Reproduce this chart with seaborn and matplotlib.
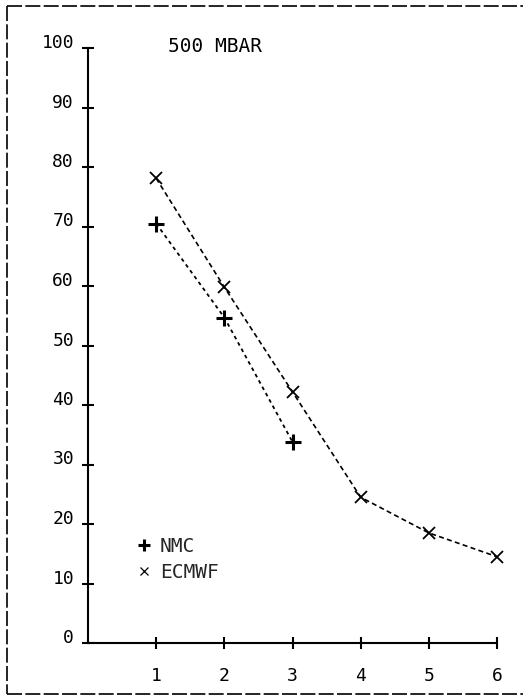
import matplotlib
matplotlib.use("Agg")
import matplotlib.pyplot as plt
import matplotlib.transforms as mtransforms
from matplotlib.lines import Line2D
import seaborn as sns
import pandas as pd

# ---- data ----
nmc_days = [1, 2, 3]
nmc_vals = [70.5, 54.7, 33.8]
ecmwf_days = [1, 2, 3, 4, 5, 6]
ecmwf_vals = [78.1, 59.8, 42.2, 24.5, 18.5, 14.5]
x_ticks = [1, 2, 3, 4, 5, 6]
y_ticks = [0, 10, 20, 30, 40, 50, 60, 70, 80, 90, 100]
title_text = "500 MBAR"
series_names = ["NMC", "ECMWF"]

sns.set_theme(style="white")
plt.rcParams["font.family"] = ["DejaVu Sans Mono", "DejaVu Sans"]

fig = plt.figure(figsize=(5.23, 6.97), dpi=100)
ax = fig.add_axes([88 / 523, 1 - 643 / 697, (497 - 88) / 523, (643 - 48) / 697])

df_nmc = pd.DataFrame({"day": nmc_days, "value": nmc_vals})
df_ec = pd.DataFrame({"day": ecmwf_days, "value": ecmwf_vals})

sns.lineplot(data=df_nmc, x="day", y="value", ax=ax, color="black",
             linewidth=1.3, linestyle=(0, (2, 2)), marker="+",
             markersize=11, markeredgewidth=2.2, markeredgecolor="black",
             clip_on=False)
sns.lineplot(data=df_ec, x="day", y="value", ax=ax, color="black",
             linewidth=1.2, linestyle=(0, (3, 2)), marker="x",
             markersize=9, markeredgewidth=1.3, markeredgecolor="black",
             clip_on=False)

ax.set_xlim(0, 6)
ax.set_ylim(0, 100)
ax.set_xticks(x_ticks)
ax.set_yticks(y_ticks)
ax.set_xticklabels([str(v) for v in x_ticks])
ax.set_yticklabels([str(v) for v in y_ticks])
ax.set_xlabel("")
ax.set_ylabel("")

for s in ["top", "right"]:
    ax.spines[s].set_visible(False)
for s in ["left", "bottom"]:
    ax.spines[s].set_color("black")
    ax.spines[s].set_linewidth(1.5)

ax.tick_params(axis="both", direction="inout", length=8, width=1.5,
               colors="black", labelsize=13)
ax.tick_params(axis="x", pad=13)
ax.tick_params(axis="y", pad=6)
ax.tick_params(left=True, bottom=True)

offset = mtransforms.ScaledTranslation(0, 0.07, fig.dpi_scale_trans)
for lab in ax.get_yticklabels():
    lab.set_transform(lab.get_transform() + offset)

ax.text((168 - 88) / 409, (643 - 47) / 595, title_text, transform=ax.transAxes,
        ha="left", va="center", fontsize=14, color="black")

handles = [
    Line2D([], [], color="black", linestyle="none", marker="+",
           markersize=9, markeredgewidth=2.2),
    Line2D([], [], color="black", linestyle="none", marker="x",
           markersize=6, markeredgewidth=0.9),
]
leg = ax.legend(handles, series_names, loc="upper left",
                bbox_to_anchor=(0.112, 0.178), frameon=False,
                handlelength=1.0, handletextpad=0.35, labelspacing=0.35,
                borderpad=0, borderaxespad=0, fontsize=14)

# dashed outer border (left, top, bottom)
W, H = 523, 697
kw = dict(color="black", linewidth=1.2, linestyle=(0, (9, 2)),
          transform=fig.transFigure)
fig.add_artist(Line2D([7 / W, 1.0], [1 - 6 / H, 1 - 6 / H], **kw))
fig.add_artist(Line2D([7 / W, 7 / W], [1 - 6 / H, 1 - 694 / H], **kw))
fig.add_artist(Line2D([7 / W, 1.0], [1 - 694 / H, 1 - 694 / H], **kw))

fig.savefig("out.png", dpi=100, facecolor="white")
